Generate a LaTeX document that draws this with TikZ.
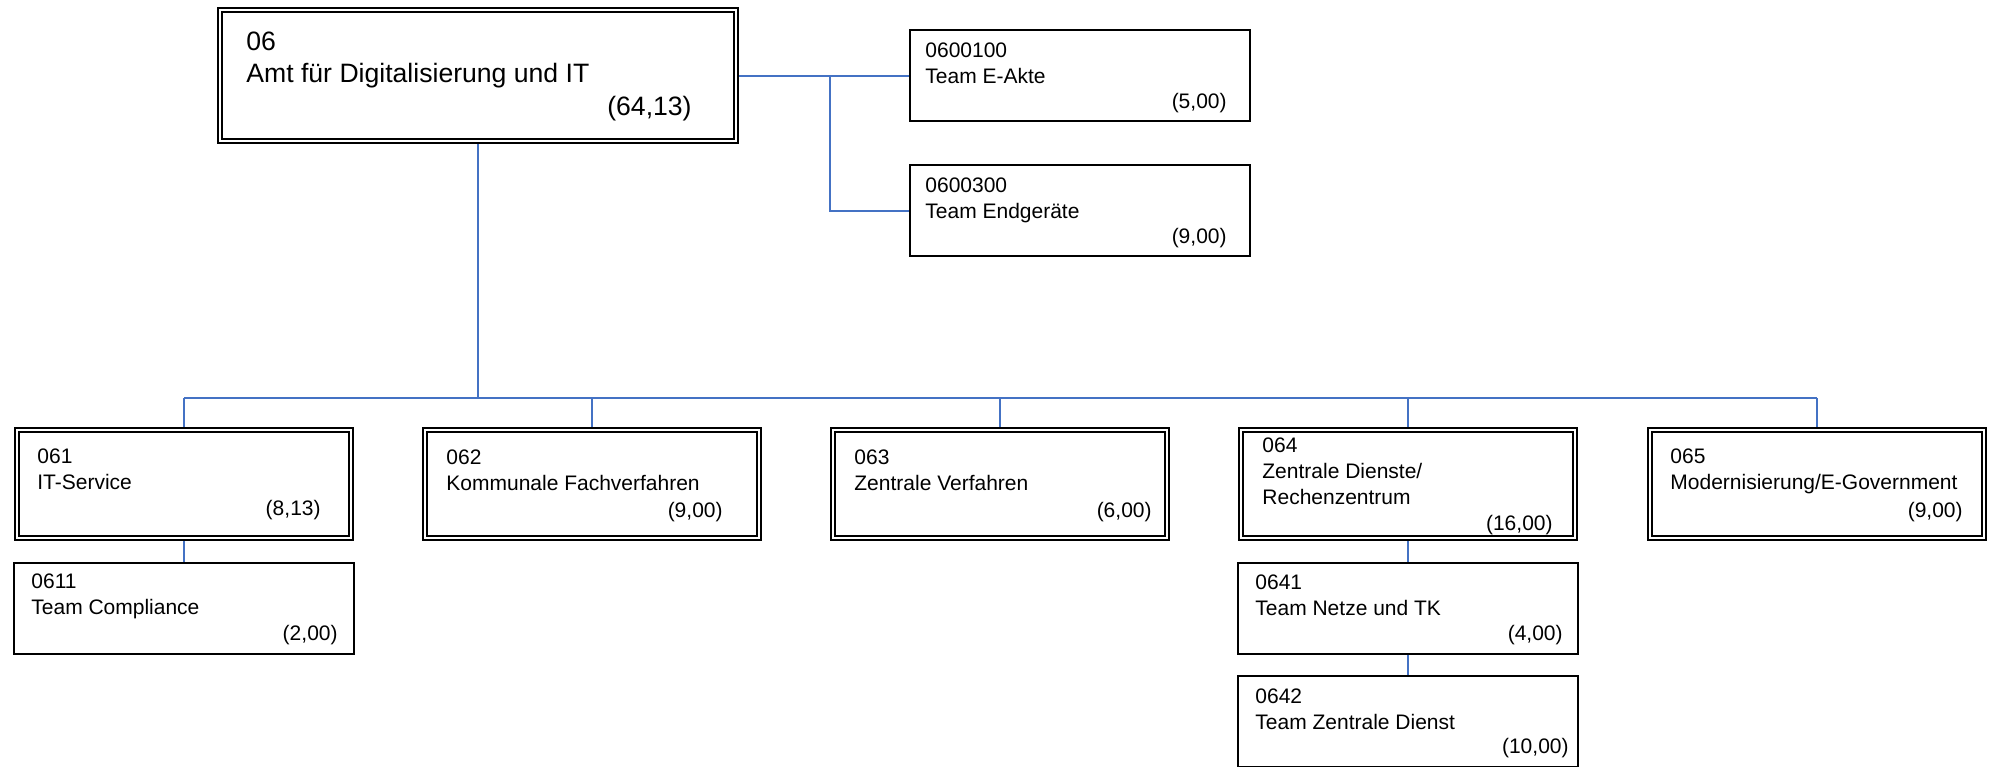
\documentclass[tikz,border=0pt]{standalone}
\usepackage{fontspec}
\setmainfont{Liberation Sans}
\definecolor{linkblue}{HTML}{4472C4}

\begin{document}
\begin{tikzpicture}[x=0.5pt,y=0.5pt,line join=miter,
    amt/.style={draw,double,line width=0.9pt,double distance=1.4pt,inner sep=0pt,outer sep=1.6pt,minimum width=258pt,minimum height=65.5pt},
    unit/.style={draw,double,line width=0.9pt,double distance=1.4pt,inner sep=0pt,outer sep=1.6pt,minimum width=167pt,minimum height=54pt},
    team/.style={draw,line width=0.9pt,inner sep=0pt,outer sep=0.45pt,minimum width=170pt,minimum height=45.5pt},
    head/.style={anchor=north west,align=left,inner sep=0pt,font=\fontsize{10.5}{13}\selectfont},
    fte/.style={anchor=base east,inner sep=0pt,font=\fontsize{10.5}{13}\selectfont},
    link/.style={draw=linkblue,line width=1pt}]
      \useasboundingbox (0,0) rectangle (1992,-766);
      \fill[white] (0,0) rectangle (1992,-766);
      % Amt
      \node[amt] (a06) at (478,-75.5) {};
      \node[head,font=\fontsize{13.3}{16}\selectfont] (h06) at (246,-32) {06\\Amt für Digitalisierung und IT};
      \node[fte,font=\fontsize{13.3}{16}\selectfont] (f06) at (692,-115) {(64,13)};
      % Teams beim Amt
      \node[team] (t0600100) at (1080,-75.5) {};
      \node[head] (h0600100) at (925,-42) {0600100\\Team E-Akte};
      \node[fte] (f0600100) at (1227,-108) {(5,00)};
      \node[team] (t0600300) at (1080,-210.5) {};
      \node[head] (h0600300) at (925,-177) {0600300\\Team Endgeräte};
      \node[fte] (f0600300) at (1227,-243) {(9,00)};
      % Abteilungen
      \node[unit] (u061) at (184,-484) {};
      \node[head] (h061) at (37,-448) {061\\IT-Service};
      \node[fte] (f061) at (321,-515) {(8,13)};
      \node[unit] (u062) at (592,-484) {};
      \node[head] (h062) at (446,-449) {062\\Kommunale Fachverfahren};
      \node[fte] (f062) at (723,-517) {(9,00)};
      \node[unit] (u063) at (1000,-484) {};
      \node[head] (h063) at (854,-449) {063\\Zentrale Verfahren};
      \node[fte] (f063) at (1152,-517) {(6,00)};
      \node[unit] (u064) at (1408,-484) {};
      \node[head] (h064) at (1262,-437) {064\\Zentrale Dienste/\\Rechenzentrum};
      \node[fte] (f064) at (1553,-530) {(16,00)};
      \node[unit] (u065) at (1817,-484) {};
      \node[head] (h065) at (1670,-448) {065\\Modernisierung/E-Government};
      \node[fte] (f065) at (1963,-517) {(9,00)};
      % Teams
      \node[team] (t0611) at (184,-608.5) {};
      \node[head] (h0611) at (31,-573) {0611\\Team Compliance};
      \node[fte] (f0611) at (338,-640) {(2,00)};
      \node[team] (t0641) at (1408,-608.5) {};
      \node[head] (h0641) at (1255,-574) {0641\\Team Netze und TK};
      \node[fte] (f0641) at (1563,-640) {(4,00)};
      \node[team] (t0642) at (1408,-721.5) {};
      \node[head] (h0642) at (1255,-688) {0642\\Team Zentrale Dienst};
      \node[fte] (f0642) at (1569,-753) {(10,00)};
      % Verbindungen
      \coordinate (fork) at (830,-75.5);
      \coordinate (bus) at (478,-398);
      \draw[link] (a06.east) -- (t0600100.west);
      \draw[link] (fork) |- (t0600300.west);
      \draw[link,line width=1.2pt] (a06.south) -- (bus);
      \draw[link] (u061.north |- bus) -- (u065.north |- bus);
      \foreach \u in {061,062,063,064,065}
      \draw[link] (u\u.north |- bus) -- (u\u.north);
      \draw[link] (u061.south) -- (t0611.north);
      \draw[link] (u064.south) -- (t0641.north);
      \draw[link] (t0641.south) -- (t0642.north);
    \end{tikzpicture}
\end{document}
